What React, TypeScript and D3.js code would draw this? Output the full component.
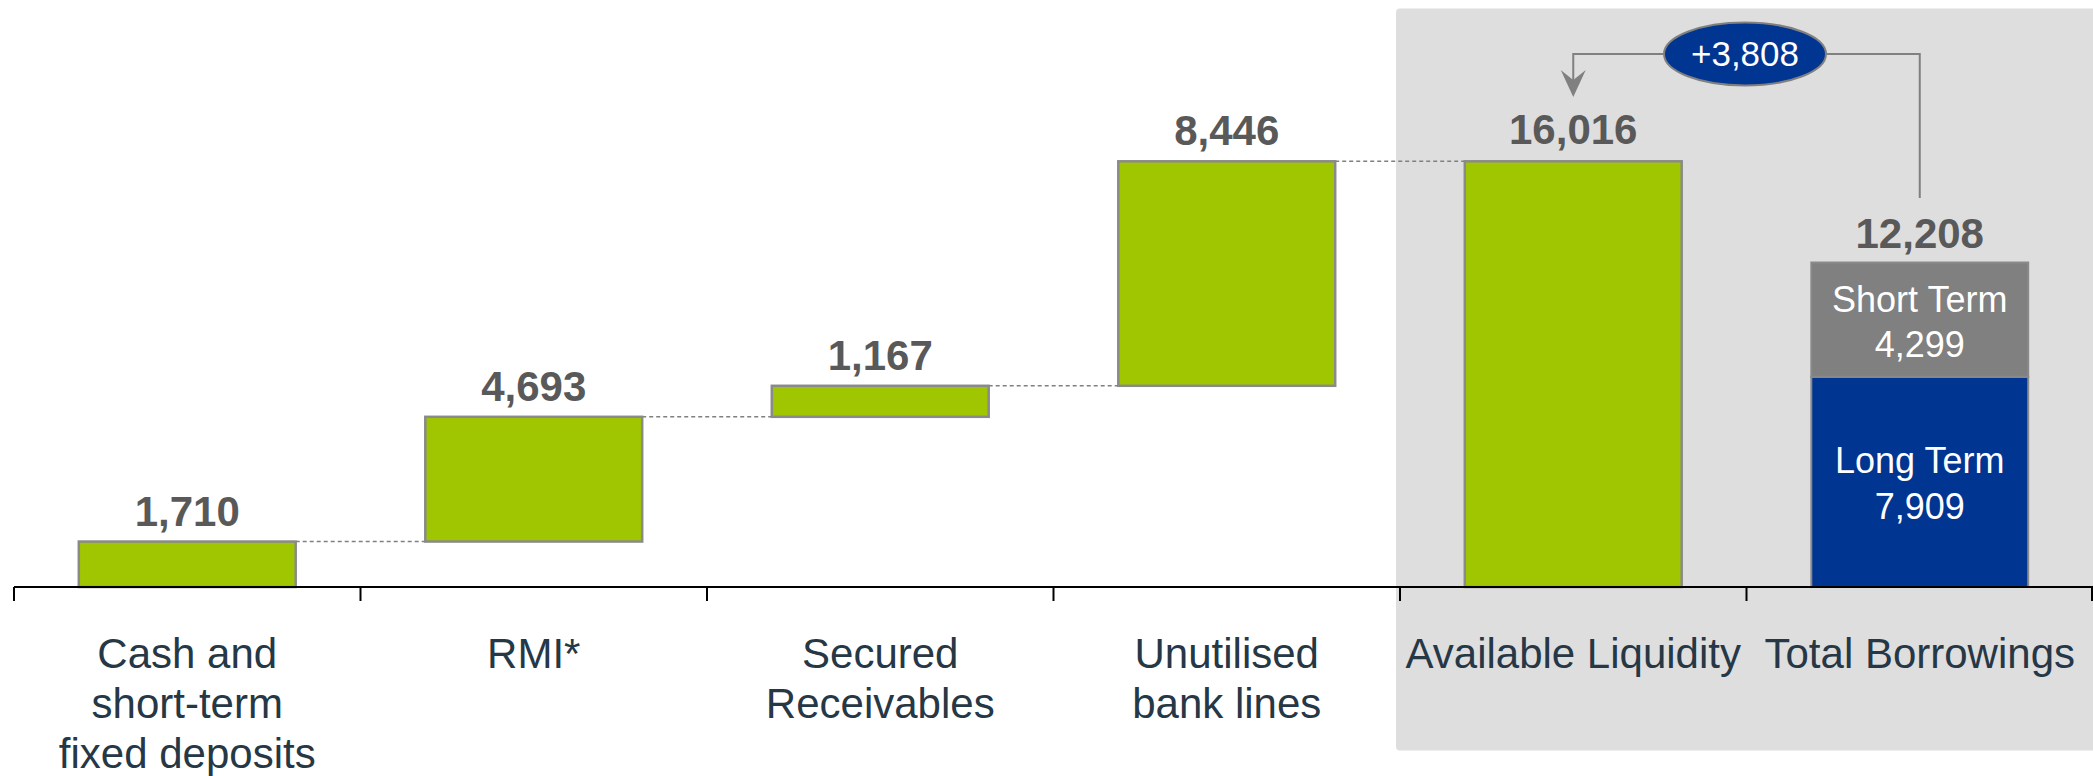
import React from "react";
import * as d3 from "d3";

const categories: string[][] = [
  ["Cash and", "short-term", "fixed deposits"],
  ["RMI*"],
  ["Secured", "Receivables"],
  ["Unutilised", "bank lines"],
  ["Available Liquidity"],
  ["Total Borrowings"],
];
const stepValues = [1710, 4693, 1167, 8446];
const availableLiquidity = 16016;
const shortTerm = 4299;
const longTerm = 7909;
const totalBorrowings = 12208;
const difference = 3808;

const W = 2093;
const H = 776;
const FONT = "'Liberation Sans', Arial, sans-serif";
const GREEN = "#9fc600";
const BLUE = "#003591";
const GREY = "#808080";
const STROKE = "#8a8a8a";
const LABEL = "#595959";
const CAT = "#263746";
const fmt = d3.format(",");

export default function App() {
  const x = d3
    .scaleBand<number>()
    .domain(d3.range(categories.length))
    .range([14, W])
    .paddingInner(0)
    .paddingOuter(0);
  const y = d3.scaleLinear().domain([0, 16016]).range([587, 161.3]);
  const bw = x.bandwidth();
  const barW = bw * 0.626;
  const barX = (i: number) => (x(i) as number) + (bw - barW) / 2;
  const cx = (i: number) => (x(i) as number) + bw / 2;

  // waterfall steps
  let cum = 0;
  const steps = stepValues.map((v, i) => {
    const s = { i, start: cum, end: cum + v, v };
    cum += v;
    return s;
  });

  const ellCx = 1745;
  const ellCy = 54;
  const ellRx = 81;
  const ellRy = 31.5;
  const arrowX = cx(4);
  const rightX = cx(5);
  const arrowTip = 97;

  const shortMid = (y(longTerm) + y(longTerm + shortTerm)) / 2;
  const longMid = (y(0) + y(longTerm)) / 2;

  return (
    <svg
      width={W}
      height={H}
      style={{ position: "absolute", left: 0, top: 0, background: "#fff" }}
      fontFamily={FONT}
    >
      {/* grey highlight panel */}
      <rect x={1396} y={8.5} width={W - 1396 + 10} height={742} rx={4} fill="#dedede" />

      {/* connectors */}
      {steps.map((s, k) => {
        const nextLeft = k < steps.length - 1 ? barX(k + 1) : barX(4);
        return (
          <line
            key={"c" + k}
            x1={barX(k) + barW}
            x2={nextLeft}
            y1={y(s.end)}
            y2={y(s.end)}
            stroke={GREY}
            strokeWidth={1.5}
            strokeDasharray="4,3"
          />
        );
      })}

      {/* step bars */}
      {steps.map((s) => (
        <g key={"b" + s.i}>
          <rect
            x={barX(s.i)}
            y={y(s.end)}
            width={barW}
            height={y(s.start) - y(s.end)}
            fill={GREEN}
            stroke={STROKE}
            strokeWidth={2.5}
          />
          <text
            x={cx(s.i)}
            y={y(s.end) - 16}
            textAnchor="middle"
            fontSize={42}
            fontWeight="bold"
            fill={LABEL}
          >
            {fmt(s.v)}
          </text>
        </g>
      ))}

      {/* available liquidity */}
      <rect
        x={barX(4)}
        y={y(availableLiquidity)}
        width={barW}
        height={y(0) - y(availableLiquidity)}
        fill={GREEN}
        stroke={STROKE}
        strokeWidth={2.5}
      />
      <text x={cx(4)} y={y(availableLiquidity) - 17} textAnchor="middle" fontSize={42} fontWeight="bold" fill={LABEL}>
        {fmt(availableLiquidity)}
      </text>

      {/* total borrowings */}
      <rect
        x={barX(5)}
        y={y(longTerm)}
        width={barW}
        height={y(0) - y(longTerm)}
        fill={BLUE}
        stroke={STROKE}
        strokeWidth={2}
      />
      <rect
        x={barX(5)}
        y={y(longTerm + shortTerm)}
        width={barW}
        height={y(longTerm) - y(longTerm + shortTerm)}
        fill={GREY}
        stroke={STROKE}
        strokeWidth={2}
      />
      <text x={cx(5)} y={y(totalBorrowings) - 15} textAnchor="middle" fontSize={42} fontWeight="bold" fill={LABEL}>
        {fmt(totalBorrowings)}
      </text>
      <text x={cx(5)} y={shortMid - 8} textAnchor="middle" fontSize={36} fill="#fff">Short Term</text>
      <text x={cx(5)} y={shortMid + 37} textAnchor="middle" fontSize={36} fill="#fff">{fmt(shortTerm)}</text>
      <text x={cx(5)} y={longMid - 9} textAnchor="middle" fontSize={36} fill="#fff">Long Term</text>
      <text x={cx(5)} y={longMid + 37} textAnchor="middle" fontSize={36} fill="#fff">{fmt(longTerm)}</text>

      {/* difference annotation */}
      <path
        d={`M${ellCx - ellRx},${ellCy}H${arrowX}V${arrowTip - 16}`}
        fill="none"
        stroke={GREY}
        strokeWidth={2}
      />
      <path
        d={`M${arrowX},${arrowTip} L${arrowX - 12.5},${arrowTip - 27} L${arrowX},${arrowTip - 17} L${arrowX + 12.5},${arrowTip - 27} Z`}
        fill={GREY}
      />
      <path
        d={`M${ellCx + ellRx},${ellCy}H${rightX}V${198}`}
        fill="none"
        stroke={GREY}
        strokeWidth={2}
      />
      <ellipse cx={ellCx} cy={ellCy} rx={ellRx} ry={ellRy} fill={BLUE} stroke={GREY} strokeWidth={2} />
      <text x={ellCx} y={ellCy + 12} textAnchor="middle" fontSize={35} fill="#fff">
        +{fmt(difference)}
      </text>

      {/* axis */}
      <line x1={14} x2={W} y1={587} y2={587} stroke="#000" strokeWidth={2} />
      {d3.range(categories.length + 1).map((i) => {
        const tx = Math.min(14 + i * bw, W - 1);
        return <line key={"t" + i} x1={tx} x2={tx} y1={587} y2={601} stroke="#000" strokeWidth={2} />;
      })}

      {/* category labels */}
      {categories.map((lines, i) => (
        <text key={"l" + i} x={cx(i)} y={668} textAnchor="middle" fontSize={42} fill={CAT}>
          {lines.map((ln, j) => (
            <tspan key={j} x={cx(i)} dy={j === 0 ? 0 : 50}>
              {ln}
            </tspan>
          ))}
        </text>
      ))}
    </svg>
  );
}
